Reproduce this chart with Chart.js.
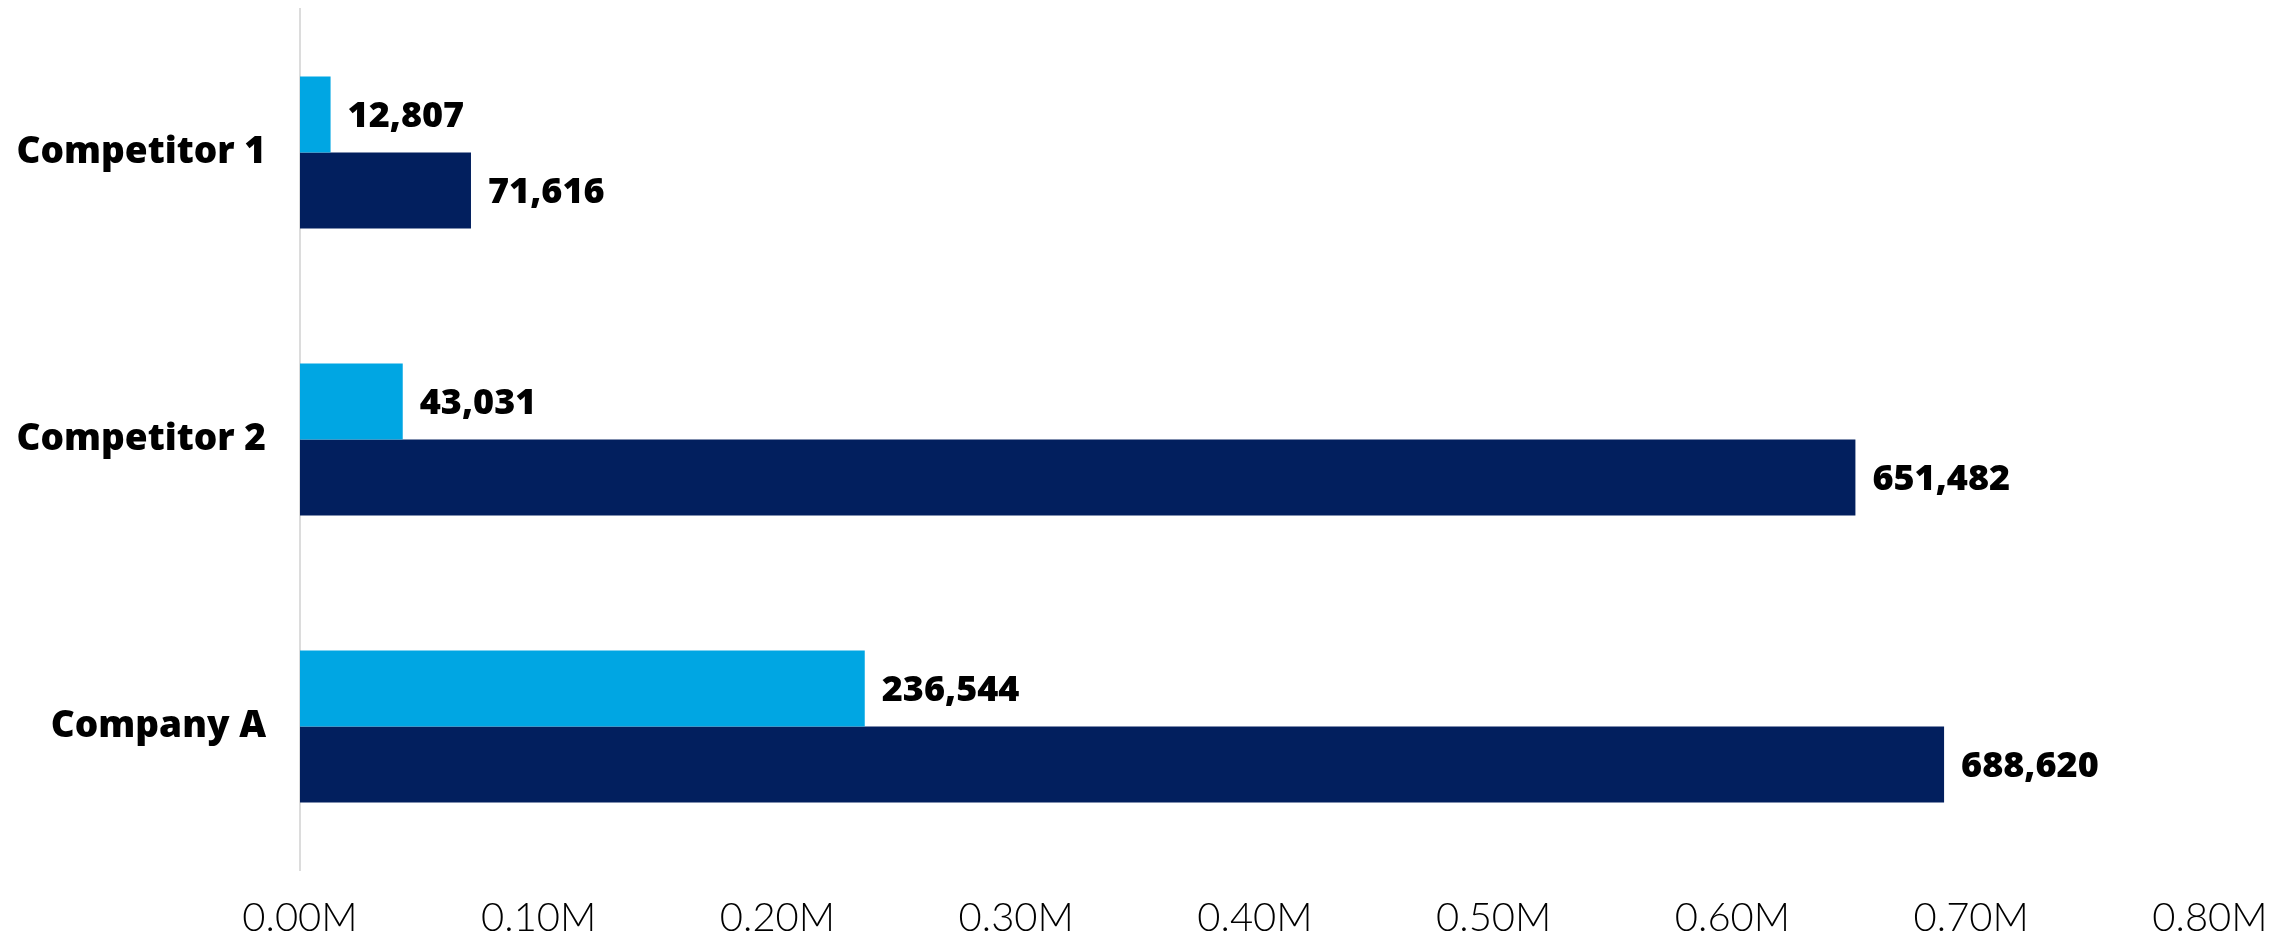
<!DOCTYPE html>
<html>
<head>
<meta charset="utf-8">
<script src="https://cdn.jsdelivr.net/npm/chart.js@4.4.1/dist/chart.umd.min.js"></script>
<style>
  html, body { margin: 0; padding: 0; background: #ffffff; }
  #chart { display: block; }
</style>
</head>
<body>
<canvas id="chart" width="2295" height="936"></canvas>
<script>
// companies, top to bottom
const companies = ['Competitor 1', 'Competitor 2', 'Company A'];

// the two series for each company
const lightValues = [12807, 43031, 236544];
const darkValues = [71616, 651482, 688620];

// x axis range and step
const xMin = 0;
const xMax = 800000;
const xStep = 100000;

const COLOR_LIGHT = '#00a6e3';
const COLOR_DARK = '#021f5e';
const BOLD_FAMILY = '"Open Sans", Lato, sans-serif';
const LABEL_FONT = '800 36px ' + BOLD_FAMILY;

// writes the value to the right of every bar
const valueLabels = {
    id: 'valueLabels',
    afterDatasetsDraw(chart) {
        const ctx = chart.ctx;
        ctx.save();
        ctx.font = LABEL_FONT;
        ctx.fillStyle = '#000000';
        ctx.textAlign = 'left';
        ctx.textBaseline = 'middle';
        chart.data.datasets.forEach(function(ds, i) {
            const meta = chart.getDatasetMeta(i);
            meta.data.forEach(function(bar, j) {
                const text = ds.data[j].toLocaleString('en-US');
                ctx.fillText(text, bar.x + 17, bar.y + 2);
            });
        });
        ctx.restore();
    }
};

new Chart(document.getElementById('chart'), {
    type: 'bar',
    data: {
        labels: companies,
        datasets: [
            { data: lightValues, backgroundColor: COLOR_LIGHT },
            { data: darkValues, backgroundColor: COLOR_DARK }
        ]
    },
    options: {
        indexAxis: 'y',
        responsive: false,
        animation: false,
        categoryPercentage: 0.53,
        barPercentage: 1,
        layout: { padding: { top: 9, right: 85, left: 0, bottom: 0 } },
        plugins: {
            legend: { display: false },
            tooltip: { enabled: false }
        },
        scales: {
            x: {
                min: xMin,
                max: xMax,
                grid: { display: false },
                border: { display: false },
                ticks: {
                    stepSize: xStep,
                    padding: 16,
                    color: '#000000',
                    font: { family: 'Lato', size: 40, weight: 300 },
                    maxRotation: 0,
                    callback: function(v) { return (v / 1000000).toFixed(2) + 'M'; }
                },
                afterFit: function(scale) { scale.height = 66; }
            },
            y: {
                grid: { display: false },
                border: { display: true, color: '#dcdcdc', width: 2 },
                ticks: {
                    padding: 26,
                    color: '#000000',
                    font: { family: BOLD_FAMILY, size: 37, weight: 800 }
                },
                afterFit: function(scale) {
                    // fixed label column, and no extra space above/below the bars
                    scale.width = 300;
                    scale.paddingTop = 0;
                    scale.paddingBottom = 0;
                }
            }
        }
    },
    plugins: [valueLabels]
});
</script>
</body>
</html>
